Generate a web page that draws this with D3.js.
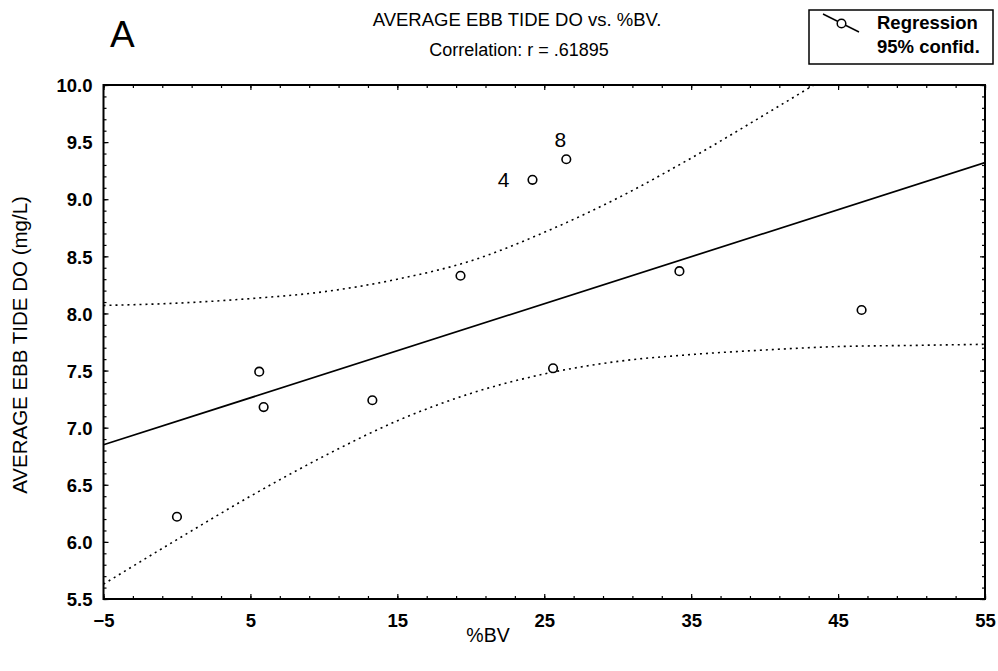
<!DOCTYPE html>
<html>
<head>
<meta charset="utf-8">
<script src="https://cdn.jsdelivr.net/npm/d3@7/dist/d3.min.js"></script>
<style>
  html, body { margin: 0; padding: 0; background: #fff; }
  svg { display: block; font-family: "Liberation Sans", Arial, sans-serif; }
</style>
</head>
<body>
<svg id="chart" width="998" height="671"></svg>
<script>
// ---- data ----
const bv        = [0, 5.6, 5.9, 13.3, 19.3, 24.2, 26.5, 25.6, 34.2, 46.6];
const ebbDO     = [6.22, 7.49, 7.18, 7.24, 8.33, 9.17, 9.35, 7.52, 8.37, 8.03];
const pointTags = ["", "", "", "", "", "4", "8", "", "", ""];
const regX      = [-5, 55];
const regY      = [6.85, 9.32];
const ciX       = [-5, 0, 5, 10, 15, 20, 25, 30, 35, 40, 45, 50, 55];
const ciUpper   = [8.07, 8.09, 8.13, 8.19, 8.30, 8.46, 8.71, 9.01, 9.36, 9.74, 10.13, 10.53, 10.93];
const ciLower   = [5.63, 6.02, 6.40, 6.75, 7.06, 7.30, 7.47, 7.58, 7.64, 7.68, 7.71, 7.72, 7.73];
const xMajor    = [-5, 5, 15, 25, 35, 45, 55];
const yMajor    = [5.5, 6.0, 6.5, 7.0, 7.5, 8.0, 8.5, 9.0, 9.5, 10.0];
const titleText = "AVERAGE EBB TIDE DO vs. %BV.";
const subText   = "Correlation: r = .61895";
const xTitle    = "%BV";
const yTitle    = "AVERAGE EBB TIDE DO (mg/L)";
const legendLabels = ["Regression", "95% confid."];

// ---- layout ----
const L = 103.5, R = 985, T = 85, B = 599;
const svg = d3.select("#chart");
const x = d3.scaleLinear().domain([-5, 55]).range([L, R]);
const y = d3.scaleLinear().domain([5.5, 10]).range([B, T]);

const xMinor = d3.range(-5, 55.01, 2);
const yMinor = d3.range(5.5, 10.001, 0.1).map(v => +v.toFixed(2));

// clip
svg.append("defs").append("clipPath").attr("id", "clip")
  .append("rect").attr("x", L).attr("y", T).attr("width", R - L).attr("height", B - T);

// ticks (inward on all four sides)
function tickAxis(axisFn, scale, vals, size, transform) {
  svg.append("g").attr("transform", transform)
    .call(axisFn(scale).tickValues(vals).tickSize(size).tickFormat(""))
    .call(g => g.select(".domain").remove())
    .call(g => g.selectAll("line").attr("stroke", "#000").attr("stroke-width", 1.2));
}
tickAxis(d3.axisTop, x, xMinor, 3, `translate(0,${B})`);
tickAxis(d3.axisTop, x, xMajor, 5, `translate(0,${B})`);
tickAxis(d3.axisBottom, x, xMinor, 3, `translate(0,${T})`);
tickAxis(d3.axisBottom, x, xMajor, 5, `translate(0,${T})`);
tickAxis(d3.axisRight, y, yMinor, 3, `translate(${L},0)`);
tickAxis(d3.axisRight, y, yMajor, 5, `translate(${L},0)`);
tickAxis(d3.axisLeft, y, yMinor, 3, `translate(${R},0)`);
tickAxis(d3.axisLeft, y, yMajor, 5, `translate(${R},0)`);

// tick labels
const xAx = svg.append("g").attr("transform", `translate(0,${B})`)
  .call(d3.axisBottom(x).tickValues(xMajor).tickSize(0).tickPadding(0).tickFormat(d3.format("d")));
xAx.select(".domain").remove();
xAx.selectAll("text").attr("font-family", "Liberation Sans, Arial, sans-serif")
  .attr("font-size", 18.5).attr("font-weight", "bold").attr("fill", "#000")
  .attr("y", 28).attr("dy", 0);

const yAx = svg.append("g").attr("transform", `translate(${L},0)`)
  .call(d3.axisLeft(y).tickValues(yMajor).tickSize(0).tickPadding(0).tickFormat(d3.format(".1f")));
yAx.select(".domain").remove();
yAx.selectAll("text").attr("font-family", "Liberation Sans, Arial, sans-serif")
  .attr("font-size", 18.5).attr("font-weight", "bold").attr("fill", "#000")
  .attr("x", -11).attr("dy", "0.36em");

// plot group clipped
const plot = svg.append("g").attr("clip-path", "url(#clip)");

const regLine = d3.line().x(d => x(d[0])).y(d => y(d[1]));
plot.append("path")
  .attr("d", regLine(regX.map((v, i) => [v, regY[i]])))
  .attr("fill", "none").attr("stroke", "#000").attr("stroke-width", 1.7);

const ciLine = d3.line().x(d => x(d[0])).y(d => y(d[1])).curve(d3.curveMonotoneX);
[ciUpper, ciLower].forEach(arr => {
  plot.append("path")
    .attr("d", ciLine(ciX.map((v, i) => [v, arr[i]])))
    .attr("fill", "none").attr("stroke", "#000").attr("stroke-width", 1.6)
    .attr("stroke-dasharray", "2,4");
});

// points
svg.append("g").selectAll("circle")
  .data(bv.map((v, i) => ({ x: v, y: ebbDO[i], tag: pointTags[i] })))
  .join("circle")
  .attr("cx", d => x(d.x)).attr("cy", d => y(d.y)).attr("r", 4.3)
  .attr("fill", "#fff").attr("stroke", "#000").attr("stroke-width", 1.6);

// point tags
const tagOffsets = { "4": [-29, 7], "8": [-6, -12] };
svg.append("g").selectAll("text")
  .data(bv.map((v, i) => ({ x: v, y: ebbDO[i], tag: pointTags[i] })).filter(d => d.tag))
  .join("text")
  .attr("x", d => x(d.x) + tagOffsets[d.tag][0])
  .attr("y", d => y(d.y) + tagOffsets[d.tag][1])
  .attr("text-anchor", "middle").attr("font-size", 21).attr("fill", "#000")
  .text(d => d.tag);

// frame
svg.append("rect").attr("x", L).attr("y", T).attr("width", R - L).attr("height", B - T)
  .attr("fill", "none").attr("stroke", "#000").attr("stroke-width", 2);

// titles
svg.append("text").attr("x", 517).attr("y", 26).attr("text-anchor", "middle")
  .attr("font-size", 18.5).attr("fill", "#000").text(titleText);
svg.append("text").attr("x", 519).attr("y", 56).attr("text-anchor", "middle")
  .attr("font-size", 18).attr("fill", "#000").text(subText);
svg.append("text").attr("x", 110).attr("y", 47)
  .attr("font-size", 37).attr("fill", "#000").text("A");

svg.append("text").attr("x", 488).attr("y", 642).attr("text-anchor", "middle")
  .attr("font-size", 19.5).attr("fill", "#000").text(xTitle);
svg.append("text").attr("transform", `translate(27,${(T + B) / 2 + 3}) rotate(-90)`)
  .attr("text-anchor", "middle").attr("font-size", 20.5).attr("fill", "#000").text(yTitle);

// legend
const lg = svg.append("g");
lg.append("rect").attr("x", 809).attr("y", 10).attr("width", 184).attr("height", 54)
  .attr("fill", "#fff").attr("stroke", "#000").attr("stroke-width", 1.5);
lg.append("line").attr("x1", 823).attr("y1", 14).attr("x2", 859).attr("y2", 32)
  .attr("stroke", "#000").attr("stroke-width", 1.5);
lg.append("circle").attr("cx", 841.5).attr("cy", 23.5).attr("r", 4.3)
  .attr("fill", "#fff").attr("stroke", "#000").attr("stroke-width", 1.5);
lg.selectAll("text.lbl").data(legendLabels).join("text").attr("class", "lbl")
  .attr("x", 877).attr("y", (d, i) => 29 + i * 24)
  .attr("font-size", 18.5).attr("font-weight", "bold").attr("fill", "#000")
  .text(d => d);
</script>
</body>
</html>
